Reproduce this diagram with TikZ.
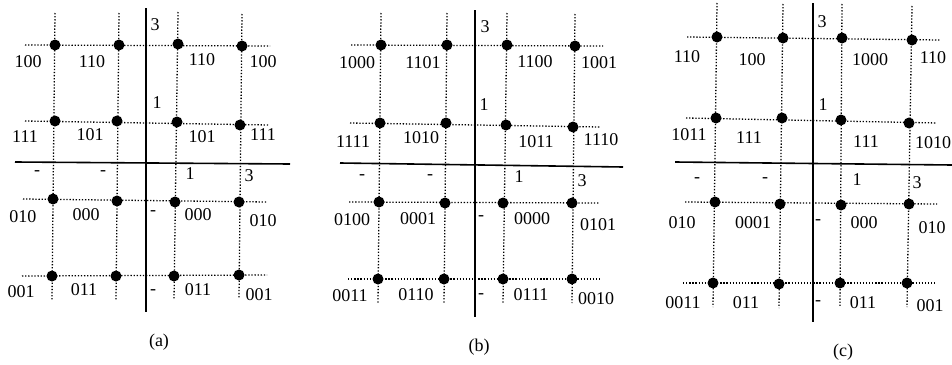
\documentclass[tikz,border=0pt]{standalone}
\usepackage{fontspec}
\setmainfont{Liberation Serif}
\usepackage{tikz}

\tikzset{
  dot/.style={circle, fill=black, inner sep=0pt, minimum size=5.5pt},
  gridline/.style={line width=0.65pt, dash pattern=on 0.65pt off 0.9pt},
  axisline/.style={line width=0.8pt},
  lbl/.style={font=\fontsize{9}{10}\selectfont, inner sep=0pt},
}

\begin{document}
\begin{tikzpicture}[x=0.5pt, y=-0.5pt]
        \useasboundingbox (0,0) rectangle (952,364);

        % ---------- Panel (a) ----------
        \foreach \x/\y/\nm in {55/45/a11, 119/45/a12, 178/44/a13, 242/46/a14,
                                55/121/a21, 117/121/a22, 177/122/a23, 240/125/a24,
                                53/199/a31, 117/201/a32, 175/202/a33, 239/202/a34,
                                52/276/a41, 116/276/a42, 174/276/a43, 239/275/a44}
          \node[dot] (\nm) at (\x,\y) {};
        \foreach \c in {1,...,4}
          \draw[gridline] ([yshift=16pt]a1\c.center) -- ([yshift=-12pt]a4\c.center);
        \foreach \r in {1,...,4}
          \draw[gridline] ([xshift=-15pt]a\r1.center) -- ([xshift=14pt]a\r4.center);
        \draw[axisline] (146,8) -- (146,312);
        \draw[axisline] (15,162) -- (290,164);

        % Point labels
        \foreach \x/\y/\t [count=\n] in {28/62/100, 92/62/110, 202/60/110, 263/62/100,
                                          25/137/111, 90/135/101, 202/137/101, 263/135/111,
                                          23/217/010, 86/215/000, 198/215/000, 263/221/010,
                                          21/292/001, 84/290/011, 198/290/011, 259/295/001}
          \node[lbl] (la\n) at (\x,\y) {\t};

        % Axis marks
        \foreach \x/\y/\t [count=\n] in {155/25/3, 157/103/1, 190/174/1, 249/176/3,
                                          37/173/-, 103/173/-, 153/213/-, 153/292/-}
          \node[lbl] (ma\n) at (\x,\y) {\t};
        \node[lbl] (capa) at (159,342) {(a)};

        % ---------- Panel (b) ----------
        \foreach \x/\y/\nm in {381/45/b11, 447/45/b12, 507/45/b13, 575/46/b14,
                                380/123/b21, 446/123/b22, 506/125/b23, 573/127/b24,
                                379/202/b31, 445/203/b32, 503/203/b33, 572/203/b34,
                                378/279/b41, 444/279/b42, 503/279/b43, 572/279/b44}
          \node[dot] (\nm) at (\x,\y) {};
        \foreach \c in {1,...,4}
          \draw[gridline] ([yshift=16pt]b1\c.center) -- ([yshift=-12pt]b4\c.center);
        \foreach \r in {1,...,4}
          \draw[gridline] ([xshift=-15pt]b\r1.center) -- ([xshift=14pt]b\r4.center);
        \draw[axisline] (475,10) -- (475,317);
        \draw[axisline] (340,163) -- (623,167);

        % Point labels
        \foreach \x/\y/\t [count=\n] in {357/63/1000, 423/63/1101, 535/62/1100, 599/63/1001,
                                          353/142/1111, 421/138/1010, 536/142/1011, 601/140/1110,
                                          352/220/0100, 418/219/0001, 532/219/0000, 598/225/0101,
                                          350/296/0011, 416/295/0110, 531/295/0111, 596/299/0010}
          \node[lbl] (lb\n) at (\x,\y) {\t};

        % Axis marks
        \foreach \x/\y/\t [count=\n] in {485/27/3, 484/105/1, 519/177/1, 582/181/3,
                                          362/177/-, 430/177/-, 481/218/-, 481/296/-}
          \node[lbl] (mb\n) at (\x,\y) {\t};
        \node[lbl] (capb) at (479,347) {(b)};

        % ---------- Panel (c) ----------
        \foreach \x/\y/\nm in {717/37/c11, 783/38/c12, 842/38/c13, 912/40/c14,
                                716/118/c21, 782/118/c22, 841/120/c23, 909/123/c24,
                                715/202/c31, 780/204/c32, 841/205/c33, 909/204/c34,
                                713/283/c41, 779/284/c42, 840/283/c43, 907/283/c44}
          \node[dot] (\nm) at (\x,\y) {};
        \foreach \c in {1,...,4}
          \draw[gridline] ([yshift=17pt]c1\c.center) -- ([yshift=-12pt]c4\c.center);
        \foreach \r in {1,...,4}
          \draw[gridline] ([xshift=-15pt]c\r1.center) -- ([xshift=14pt]c\r4.center);
        \draw[axisline] (813,3) -- (813,322);
        \draw[axisline] (675,162) -- (952,165);

        % Point labels
        \foreach \x/\y/\t [count=\n] in {687/57/110, 752/60/100, 870/60/1000, 933/58/110,
                                          689/135/1011, 749/138/111, 866/142/111, 933/143/1010,
                                          682/223/010, 753/223/0001, 864/223/000, 932/228/010,
                                          683/303/0011, 746/303/011, 863/303/011, 930/306/001}
          \node[lbl] (lc\n) at (\x,\y) {\t};

        % Axis marks
        \foreach \x/\y/\t [count=\n] in {822/22/3, 823/105/1, 857/180/1, 917/183/3,
                                          697/180/-, 765/180/-, 818/222/-, 818/303/-}
          \node[lbl] (mc\n) at (\x,\y) {\t};
        \node[lbl] (capc) at (843,352) {(c)};
\end{tikzpicture}
\end{document}
